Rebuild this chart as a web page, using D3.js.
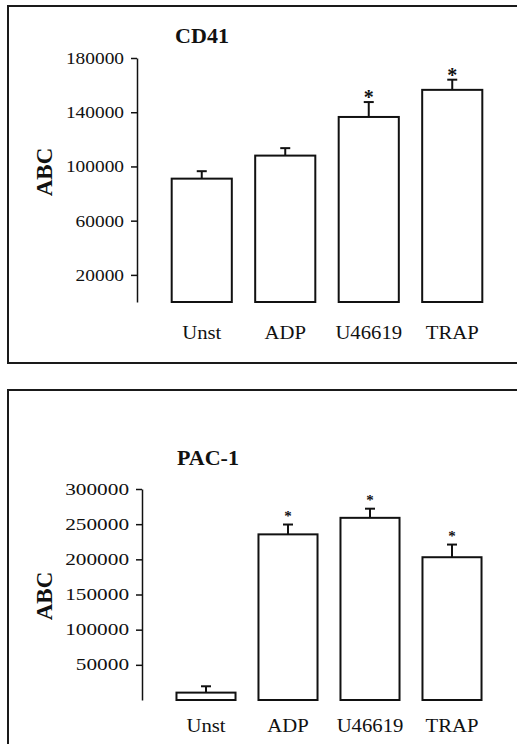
<!DOCTYPE html>
<html>
<head>
<meta charset="utf-8">
<script src="https://cdn.jsdelivr.net/npm/d3@7"></script>
<style>
  body { margin: 0; background: #fff; }
  svg { display: block; font-family: "Liberation Serif", "Times New Roman", serif; }
</style>
</head>
<body>
<svg id="chart"></svg>
<script>
// categories shared by both panels
let categories = ['Unst', 'ADP', 'U46619', 'TRAP'];

// CD41 panel
let cd41Means = [91000, 108000, 136500, 156500];
let cd41Errors = [5500, 5500, 11000, 7500];
let cd41Stars = [false, false, true, true];
let cd41Ticks = [20000, 60000, 100000, 140000, 180000];

// PAC-1 panel
let pacMeans = [10500, 235500, 259000, 203000];
let pacErrors = [9000, 14000, 13000, 18000];
let pacStars = [false, true, true, true];
let pacTicks = [50000, 100000, 150000, 200000, 250000, 300000];

let width = 517;
let height = 744;

let svg = d3.select('#chart')
    .attr('width', width)
    .attr('height', height);

// the scanned figure is a bit wider than tall, so widen text to match
let stretch = (sel, factor) => {
    sel.each(function () {
        let len = this.getComputedTextLength();
        d3.select(this)
            .attr('textLength', len * factor)
            .attr('lengthAdjust', 'spacingAndGlyphs');
    });
};

// draws one framed panel
let drawPanel = (p) => {
    let g = svg.append('g');

    // frame (runs off the right side, and bottom for the second panel)
    g.append('rect')
        .attr('x', p.box[0])
        .attr('y', p.box[1])
        .attr('width', p.box[2])
        .attr('height', p.box[3])
        .attr('fill', 'none')
        .attr('stroke', '#1a1a1a')
        .attr('stroke-width', 2);

    let yScale = d3.scaleLinear()
        .domain([0, p.max])
        .range([p.yBottom, p.yTop]);

    let xScale = d3.scaleBand()
        .domain(categories)
        .range(p.xRange)
        .paddingInner(0.28)
        .paddingOuter(0.14);

    // y axis
    let yAxis = d3.axisLeft(yScale)
        .tickValues(p.ticks)
        .tickSize(6)
        .tickPadding(7)
        .tickSizeOuter(0)
        .tickFormat(d3.format('d'));

    let ax = g.append('g')
        .attr('transform', `translate(${p.axisX}, 0)`)
        .call(yAxis);
    ax.select('.domain').attr('stroke', '#111').attr('stroke-width', 1.5);
    ax.selectAll('.tick line').attr('stroke', '#111').attr('stroke-width', 1.5);
    ax.selectAll('.tick text')
        .attr('fill', '#111')
        .style('font-size', p.tickFont)
        .style('font-family', '"Liberation Serif", serif')
        .call(stretch, p.tickStretch);

    // bars
    g.selectAll('rect.bar')
        .data(p.means)
        .enter()
        .append('rect')
        .attr('class', 'bar')
        .attr('x', (d, i) => xScale(categories[i]))
        .attr('y', (d) => yScale(d))
        .attr('width', xScale.bandwidth())
        .attr('height', (d) => p.yBottom - yScale(d))
        .attr('fill', '#fff')
        .attr('stroke', '#111')
        .attr('stroke-width', 2);

    // error bars (upper only)
    let cx = (i) => xScale(categories[i]) + xScale.bandwidth() / 2;
    p.means.forEach((m, i) => {
        let top = yScale(m + p.errors[i]);
        g.append('line')
            .attr('x1', cx(i)).attr('x2', cx(i))
            .attr('y1', yScale(m)).attr('y2', top)
            .attr('stroke', '#111').attr('stroke-width', 2);
        g.append('line')
            .attr('x1', cx(i) - 5).attr('x2', cx(i) + 5)
            .attr('y1', top).attr('y2', top)
            .attr('stroke', '#111').attr('stroke-width', 2);
        if (p.stars[i]) {
            g.append('text')
                .attr('x', cx(i))
                .attr('y', top - p.starGap)
                .attr('text-anchor', 'middle')
                .style('font-size', p.starSize)
                .style('font-weight', 'bold')
                .attr('fill', '#111')
                .text('*');
        }
    });

    // category labels
    g.selectAll('text.cat')
        .data(categories)
        .enter()
        .append('text')
        .attr('class', 'cat')
        .attr('x', (d) => xScale(d) + xScale.bandwidth() / 2)
        .attr('y', p.catY)
        .attr('text-anchor', 'middle')
        .style('font-size', '18px')
        .attr('fill', '#111')
        .text((d) => d)
        .call(stretch, p.catStretch);

    // title
    g.append('text')
        .attr('x', p.titleX)
        .attr('y', p.titleY)
        .attr('text-anchor', 'middle')
        .style('font-size', '22px')
        .style('font-weight', 'bold')
        .attr('fill', '#111')
        .text(p.title);

    // y axis label
    g.append('text')
        .attr('transform', `translate(${p.labelX}, ${p.labelY}) rotate(-90)`)
        .attr('text-anchor', 'middle')
        .style('font-size', '23px')
        .style('font-weight', 'bold')
        .attr('fill', '#111')
        .text('ABC');
};

drawPanel({
    box: [8, 6, 530, 357],
    max: 180000, yBottom: 302, yTop: 58,
    xRange: [160, 494],
    axisX: 137, tickFont: '17px', tickStretch: 1.14,
    ticks: cd41Ticks, means: cd41Means, errors: cd41Errors, stars: cd41Stars,
    starGap: -2, starSize: '20px', catStretch: 1.15,
    catY: 339, title: 'CD41', titleX: 202, titleY: 43,
    labelX: 52, labelY: 172
});

drawPanel({
    box: [8, 390, 530, 380],
    max: 300000, yBottom: 700, yTop: 489,
    xRange: [165, 493],
    axisX: 142, tickFont: '16px', tickStretch: 1.33,
    ticks: pacTicks, means: pacMeans, errors: pacErrors, stars: pacStars,
    starGap: 4, starSize: '15px', catStretch: 1.15,
    catY: 732, title: 'PAC-1', titleX: 208, titleY: 465,
    labelX: 52, labelY: 596
});
</script>
</body>
</html>
